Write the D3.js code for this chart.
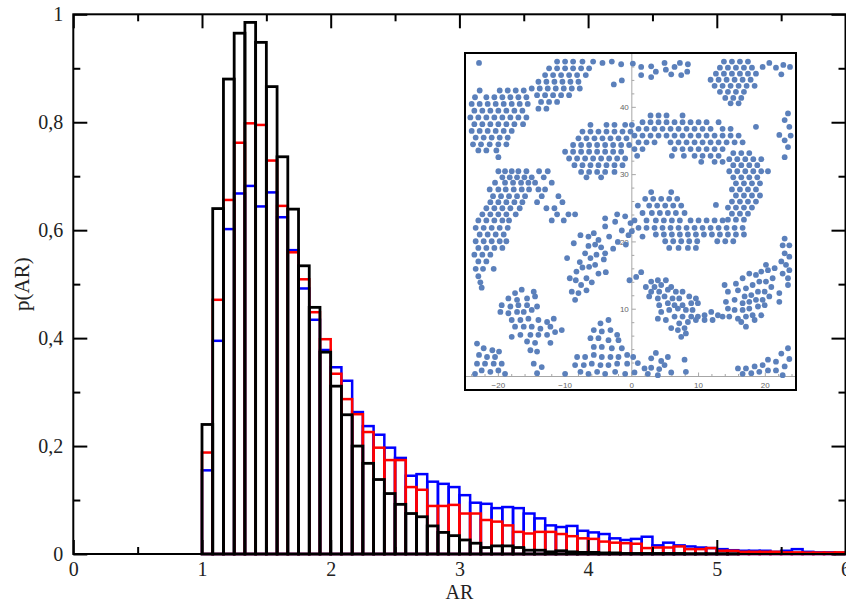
<!DOCTYPE html>
<html><head><meta charset="utf-8">
<script src="https://cdn.jsdelivr.net/npm/d3@7"></script>
<style>body{margin:0;background:#fff} svg{display:block}</style>
</head><body>
<svg id="chart" width="846" height="603"></svg>
<script>
// ---------- main histogram data ----------
const binStart = 1;
const binWidth = 1 / 12;
const seriesBlue = [
 0.155,0.395,0.602,0.668,0.682,0.644,0.670,0.624,0.563,0.492,
 0.434,0.378,0.346,0.321,0.263,0.237,0.221,0.197,0.178,0.145,
 0.148,0.134,0.130,0.124,0.109,0.095,0.093,0.085,0.087,0.085,
 0.075,0.066,0.053,0.050,0.052,0.043,0.040,0.037,0.029,0.026,
 0.028,0.032,0.016,0.021,0.016,0.014,0.012,0.011,0.009,0.007,
 0.006,0.006,0.006,0.004,0.006,0.009,0.004,0.003,0.003,0.0025];
const seriesRed = [
 0.188,0.471,0.656,0.762,0.798,0.795,0.729,0.645,0.559,0.509,
 0.448,0.398,0.334,0.287,0.259,0.226,0.197,0.174,0.174,0.124,
 0.119,0.089,0.089,0.091,0.075,0.075,0.063,0.060,0.053,0.041,
 0.038,0.041,0.041,0.037,0.033,0.029,0.028,0.023,0.021,0.020,
 0.019,0.011,0.012,0.012,0.014,0.009,0.009,0.011,0.006,0.006,
 0.004,0.004,0.004,0.004,0.003,0.003,0.0025,0.0025,0.0025,0.003];
const seriesBlack = [
 0.240,0.640,0.880,0.965,0.985,0.948,0.866,0.736,0.639,0.534,
 0.457,0.374,0.311,0.258,0.200,0.168,0.138,0.112,0.092,0.075,
 0.069,0.052,0.040,0.034,0.026,0.020,0.012,0.015,0.015,0.012,
 0.007,0.007,0.004,0.006,0.004,0.003,0.003,0.002,0.002,0.001,
 0.001,0.001,0.001,0.001,0.001,0.0005,0.0005,0.0005,0.0005,0.0005,
 0,0,0,0,0,0,0,0,0,0];
const xTicks = [0,1,2,3,4,5,6];
const xMinorTicks = [0.5,1.5,2.5,3.5,4.5,5.5];
const yTicks = [0,0.2,0.4,0.6,0.8,1];
const yTickLabels = ["0","0,2","0,4","0,6","0,8","1"];
const yMinorTicks = [0.1,0.3,0.5,0.7,0.9];
const xTitle = "AR";
const yTitle = "p(AR)";

// ---------- inset data (particle positions) ----------
const insetXTicks = [-20,-10,0,10,20];
const insetYTicks = [10,20,30,40];
const insetMinor = [-24,-22,-18,-16,-14,-12,-8,-6,-4,-2,2,4,6,8,12,14,16,18,22,24];
const insetYMinor = [2,4,6,8,12,14,16,18,22,24,26,28,32,34,36,38,42,44,46,48];
// rows: [y, [x...]]
const insetRows = [
 [42.5,[-22.8,-19.8,-18.6,-17.4,-16.2]],
 [41.5,[-23.5,-21.8,-20.6,-19.4,-18.2,-17.0,-15.8]],
 [40.5,[-24.0,-22.8,-21.6,-20.4,-19.2,-18.0,-16.8,-15.6]],
 [39.5,[-23.6,-22.4,-21.2,-20.0,-18.8,-17.6,-16.4]],
 [38.5,[-24.2,-23.0,-21.8,-20.6,-19.4,-18.2,-17.0,-15.8]],
 [37.5,[-23.6,-22.4,-21.2,-20.0,-18.8,-17.6,-16.3]],
 [36.5,[-24.0,-22.8,-21.6,-20.4,-19.2,-18.0]],
 [35.5,[-23.4,-22.2,-21.0,-19.8,-18.6]],
 [34.5,[-23.8,-22.6,-21.3,-20.0,-18.8]],
 [33.6,[-23.0,-21.8,-20.3]],
 [32.6,[-20.0]],
 [46.8,[-11.2,-10.0,-8.8,-7.4,-5.8]],
 [45.8,[-12.4,-11.2,-10.0,-8.8,-7.6,-6.4]],
 [44.8,[-13.0,-11.8,-10.6,-9.4,-8.2,-6.9]],
 [43.8,[-14.0,-12.8,-11.6,-10.4,-9.2,-8.0]],
 [42.8,[-15.0,-13.8,-12.6,-11.4,-10.2,-9.0,-7.8]],
 [41.8,[-14.2,-13.0,-11.8,-10.6,-9.4]],
 [40.8,[-13.6,-12.4,-11.2]],
 [39.8,[-14.0,-12.8]],
 [46.8,[13.8,15.0,16.2,17.4]],
 [45.9,[13.2,14.4,15.6,16.8,18.0]],
 [45.0,[12.6,13.8,15.0,16.2,17.4,18.6]],
 [44.1,[11.8,13.0,14.2,15.4,16.6,17.8]],
 [43.2,[12.4,13.6,14.8,16.0,17.2,18.4]],
 [42.3,[13.2,14.4,15.6,16.8]],
 [41.4,[14.0,15.2,16.4]],
 [40.6,[14.8,16.0]],
 [37.4,[-6.2,-3.8,-2.6,-1.0,0.0]],
 [36.4,[-7.4,-6.2,-5.0,-3.8,-2.6,-1.4,-0.2]],
 [35.4,[-8.0,-6.8,-5.6,-4.4,-3.2,-2.0,-0.8]],
 [34.4,[-8.8,-7.6,-6.4,-5.2,-4.0,-2.8,-1.6,-0.4]],
 [33.4,[-10.0,-8.8,-7.6,-6.4,-5.2,-4.0,-2.8,-1.6]],
 [32.4,[-9.4,-8.2,-7.0,-5.8,-4.6,-3.4,-2.2,-1.0]],
 [31.4,[-8.6,-7.4,-6.2,-5.0,-3.8,-2.6,-1.4]],
 [30.4,[-7.6,-6.4,-5.2,-4.0,-2.6]],
 [29.6,[-6.8,-4.6]],
 [38.8,[2.8,4.0,5.2,7.6]],
 [37.8,[1.6,2.8,4.0,5.2,6.4,7.6,8.8,10.0,11.2,13.0]],
 [36.8,[1.0,2.2,3.4,4.6,5.8,7.0,8.2,9.4,10.6,11.8,13.6,14.8]],
 [35.8,[0.4,1.6,2.8,4.0,5.2,6.4,7.6,8.8,10.0,11.2,12.4,13.6,14.8,16.0]],
 [34.8,[1.0,2.2,3.4,5.8,7.0,8.2,9.4,10.6,11.8,13.0,14.2,15.4,16.6]],
 [33.8,[0.4,1.6,6.4,7.6,8.8,10.0,11.2,12.4,13.6]],
 [32.8,[0.8,6.0,7.8,9.4,10.6,11.8,13.0]],
 [31.9,[10.4,12.4,13.6]],
 [33.2,[15.2,16.4,17.6]],
 [32.3,[14.6,15.8,17.0,18.2,19.4]],
 [31.4,[15.2,16.4,17.6,18.8]],
 [30.5,[14.6,15.8,17.0,18.2,19.4,20.4]],
 [29.6,[15.2,16.4,17.6,18.8]],
 [28.7,[15.6,16.8,18.0,19.2]],
 [27.8,[15.0,16.2,17.4,18.6]],
 [26.9,[15.6,16.8,18.0,19.2]],
 [26.0,[15.0,16.2,17.4,18.6]],
 [25.1,[14.4,15.6,16.8,18.0]],
 [24.2,[15.0,16.2,17.4]],
 [23.3,[14.4,15.6,16.8]],
 [27.4,[2.9,5.9]],
 [26.4,[2.0,3.2,4.4,5.6,6.8]],
 [25.4,[0.9,2.6,3.8,5.0,6.2,7.4]],
 [24.3,[1.6,3.0,4.2,5.4,6.6,7.9]],
 [23.2,[0.4,2.2,3.6,4.8,6.0,7.2,8.8,10.0,11.2,12.4,13.6]],
 [22.1,[1.0,2.2,3.4,4.6,5.8,7.0,8.2,9.4,10.6,11.8,13.0,14.2,15.4,16.6]],
 [21.1,[3.6,4.8,6.0,7.2,8.4,9.6,10.8,12.0,13.2,14.4,15.6,16.8]],
 [20.1,[5.0,6.2,7.4,8.6,9.8,12.8,14.0,15.2]],
 [19.1,[5.6,7.0,8.4,9.6]],
 [30.5,[-20.0,-19.0,-18.0,-17.0,-15.8,-13.9,-12.6]],
 [29.6,[-19.4,-18.3,-17.2,-16.1,-15.0,-13.2]],
 [28.8,[-20.5,-19.0,-17.8,-16.6,-15.5,-14.5,-12.0]],
 [27.8,[-21.3,-20.0,-18.9,-17.7,-16.5,-15.4,-14.0,-13.0]],
 [26.8,[-20.8,-19.6,-18.4,-17.2,-16.0,-13.5,-11.0]],
 [25.9,[-21.2,-20.0,-18.8,-17.6,-16.4,-14.2,-10.4]],
 [25.0,[-21.8,-20.6,-19.4,-18.2,-16.8,-12.8,-11.6]],
 [24.1,[-22.4,-21.2,-20.0,-18.8,-17.4,-11.2,-9.5,-8.5]],
 [23.2,[-23.0,-21.8,-20.6,-19.4,-18.4,-12.0,-10.2]],
 [22.1,[-23.4,-22.2,-21.0,-19.8,-18.6]],
 [21.1,[-22.8,-21.6,-20.4,-19.2]],
 [20.1,[-23.4,-22.2,-21.0,-19.8,-18.8]],
 [19.1,[-23.0,-21.8,-20.6,-19.4]],
 [18.1,[-23.6,-22.4,-21.2]],
 [17.1,[-23.0,-21.8]],
 [16.0,[-23.4,-22.3,-20.7]],
 [14.9,[-23.0]],
 [14.0,[-22.7]],
 [13.2,[-22.5]]
];
const insetPoints = [
 [-22.9,46.6],[-4.4,46.6],[-3.0,46.8],[-1.6,46.4],[-2.7,43.4],[-1.5,44.0],
 [0.15,46.5],[1.4,46.0],[1.4,44.8],[2.9,46.1],[2.9,44.5],[3.6,45.3],[4.9,46.6],[5.1,45.6],
 [5.9,44.9],[6.4,46.0],[7.2,46.6],[7.4,44.8],[8.4,46.4],[8.3,45.3],
 [19.6,46.0],[20.6,46.6],[21.6,45.9],[22.7,46.3],[23.7,46.0],[22.4,44.9],
 [23.4,39.1],[22.9,38.1],[23.6,37.1],[22.1,35.9],[22.9,35.1],[23.8,35.8],[23.4,34.1],[22.9,32.6],[18.6,37.1],
 [12.6,25.5],[0.0,21.6],[1.6,20.8],
 [-7.7,21.0],[-6.5,20.8],[-5.7,21.3],[-5.0,20.3],[-8.7,19.8],[-6.5,19.4],[-5.5,19.6],[-4.6,19.2],
 [-4.0,18.3],[-9.7,17.6],[-7.0,18.3],[-6.2,17.6],[-5.3,18.1],[-4.2,17.4],[-7.8,17.0],[-8.3,15.6],
 [-7.4,16.2],[-6.4,16.3],[-5.5,16.6],[-5.0,15.3],[-3.9,15.5],[-9.3,14.6],[-8.4,14.3],[-7.6,13.6],
 [-6.8,14.6],[-6.0,14.0],[-9.0,12.6],[-8.0,12.4],[-6.8,12.8],[-8.5,11.4],
 [-4.0,22.3],[-2.5,23.0],[-1.5,21.7],[-3.4,20.8],[-2.1,20.0],[-0.5,21.0],[-2.8,19.0],[-0.9,19.6],
 [-0.2,22.8],[-4.0,23.5],[-2.2,24.1],[-1.0,23.8],
 [-17.5,12.4],[-16.5,12.9],[-14.7,12.6],[-18.5,11.6],[-17.2,11.4],[-15.7,11.6],[-14.5,11.9],[-19.5,10.6],
 [-18.2,10.4],[-17.0,10.6],[-15.7,10.6],[-14.2,10.4],[-19.7,9.6],[-18.5,9.4],[-17.2,9.6],[-16.2,9.6],
 [-15.0,9.9],[-18.0,8.4],[-16.7,8.4],[-15.5,8.6],[-14.0,8.4],[-12.7,8.1],[-11.7,8.6],[-17.5,7.4],
 [-16.2,7.4],[-15.0,7.4],[-13.7,7.1],[-12.2,7.4],[-11.5,6.6],[-10.5,6.9],[-18.0,5.9],[-16.7,6.2],
 [-15.2,6.2],[-14.0,6.2],[-12.7,6.2],[-15.7,5.2],[-14.5,5.0],[-12.2,5.0],[-15.2,3.9],[-14.2,3.7],
 [-23.2,4.9],[-22.2,4.2],[-20.9,3.9],[-19.9,3.7],[-22.9,3.2],[-21.7,2.9],[-20.5,2.9],[-23.2,1.9],
 [-22.0,1.9],[-20.7,1.9],[-19.5,1.9],[-22.5,0.9],[-21.2,0.7],[-20.0,0.9],[-23.5,0.4],[-19.0,0.4],
 [-14.7,1.9],[-13.5,1.4],[-14.2,0.5],
 [-3.5,8.4],[-4.7,7.9],[-5.7,6.9],[-4.5,6.7],[-3.2,6.9],[-2.2,6.2],[-6.2,5.7],[-5.0,5.7],
 [-3.5,5.4],[-2.0,5.4],[-5.7,4.4],[-4.5,4.4],[-3.0,4.2],[-1.5,4.2],[-8.2,2.9],[-7.0,2.9],
 [-5.7,3.2],[-4.5,2.9],[-3.2,2.9],[-2.0,2.9],[-0.7,3.2],[-8.5,1.7],[-7.2,1.7],[-6.0,1.9],
 [-4.7,1.7],[-3.5,1.7],[-2.2,1.9],[-0.7,1.9],[-7.7,0.7],[-6.5,0.4],[-5.2,0.7],[-4.0,0.4],
 [-2.5,0.7],[-1.0,0.4],[-10.0,0.4],
 [0.2,2.9],[0.9,2.0],[1.9,1.2],[2.9,2.7],[3.6,3.5],[4.4,2.3],[5.4,2.9],[2.9,1.3],
 [4.1,1.1],[4.9,1.7],[0.4,0.6],[2.4,0.4],[3.9,0.2],[5.9,0.6],[7.9,2.5],[8.1,0.7],
 [-0.35,14.3],[0.65,14.8],[1.4,15.5],[2.9,14.1],[3.9,14.3],[5.1,14.3],[2.1,13.3],[3.4,13.3],
 [4.4,13.6],[5.9,13.3],[2.9,12.6],[4.1,12.6],[5.4,12.9],[6.6,12.6],[7.6,12.6],[2.6,11.9],
 [3.9,11.6],[4.9,11.9],[6.1,11.6],[7.1,11.6],[8.6,11.9],[9.6,11.6],[4.1,10.6],[5.4,10.9],
 [6.4,10.6],[7.6,10.6],[8.9,10.9],[9.9,10.9],[4.4,9.6],[5.6,9.9],[6.9,10.1],[8.1,9.9],
 [9.1,9.9],[3.9,8.6],[5.1,8.4],[6.4,8.9],[7.6,8.9],[8.9,8.9],[9.9,8.9],[10.9,9.1],
 [11.9,9.6],[12.9,9.1],[5.9,7.2],[7.1,7.9],[8.4,8.1],[9.6,8.4],[10.9,8.4],[12.1,8.4],
 [6.9,6.9],[7.9,7.2],[8.1,6.4],[7.4,5.9],
 [13.9,13.6],[14.4,12.6],[14.1,11.1],[15.6,13.8],[16.6,14.6],[17.6,15.3],[18.6,15.1],[19.4,15.6],
 [20.4,15.8],[21.4,16.1],[20.1,16.6],[15.9,12.8],[17.1,13.1],[18.1,13.6],[19.1,14.1],[20.1,14.1],
 [21.1,14.6],[16.9,11.9],[17.9,12.1],[18.9,12.6],[19.9,12.6],[20.9,13.3],[15.4,11.4],[16.6,10.9],
 [17.6,11.1],[18.6,11.4],[19.6,11.4],[20.6,11.9],[22.1,12.4],[14.4,10.1],[15.4,9.9],[16.6,9.9],
 [17.6,10.1],[18.9,10.4],[19.9,10.6],[22.1,11.1],[13.6,8.9],[14.6,8.9],[15.9,8.6],[17.1,8.9],
 [18.1,9.1],[19.4,9.1],[16.4,8.1],[17.1,7.4],[18.4,8.4],
 [22.9,20.5],[22.6,19.5],[23.6,19.5],[22.9,18.3],[23.6,17.8],[22.4,17.1],[23.1,16.6],[23.6,15.8],
 [22.6,15.3],[23.4,14.6],[23.4,13.6],
 [15.9,1.2],[17.1,1.2],[18.4,1.5],[19.6,1.7],[20.4,2.5],[21.6,2.2],[22.4,3.4],[23.4,4.2],
 [22.9,1.5],[21.6,0.9],[20.4,0.9],[19.1,0.7],[17.9,0.5],[16.6,0.4],[23.6,2.6],[22.6,0.2]
];

// ---------- drawing ----------
const svg = d3.select("#chart");
const x = d3.scaleLinear().domain([0, 6]).range([73.3, 845.5]);
const y = d3.scaleLinear().domain([0, 1]).range([554, 14.3]);
const serif = "'Liberation Serif','Times New Roman',serif";

const series = [
  {vals: seriesBlue, color: "#0000ff", w: 2.5},
  {vals: seriesRed, color: "#ff0000", w: 2.5},
  {vals: seriesBlack, color: "#000000", w: 2.8}
];
series.forEach(s => {
  svg.append("g").selectAll("rect")
    .data(s.vals.map((v, i) => ({x0: binStart + i * binWidth, v})).filter(d => d.v > 0))
    .join("rect")
    .attr("x", d => x(d.x0))
    .attr("width", d => x(d.x0 + binWidth) - x(d.x0))
    .attr("y", d => y(d.v))
    .attr("height", d => y(0) - y(d.v))
    .attr("fill", "none")
    .attr("stroke", s.color)
    .attr("stroke-width", s.w);
});

function styleAxis(g) {
  g.select(".domain").remove();
  g.selectAll(".tick line").attr("stroke", "#000").attr("stroke-width", 2);
  g.attr("font-family", serif).attr("font-size", 20);
  g.selectAll(".tick text").attr("fill", "#222");
}
svg.append("g").attr("transform", `translate(0,${y(0)})`)
  .call(d3.axisBottom(x).tickValues(xTicks).tickSizeInner(-14).tickSizeOuter(0).tickPadding(8).tickFormat(d3.format("d")))
  .call(styleAxis);
svg.append("g").attr("transform", `translate(0,${y(0)})`)
  .call(d3.axisBottom(x).tickValues(xMinorTicks).tickSizeInner(-7).tickSizeOuter(0).tickFormat(""))
  .call(styleAxis);
svg.append("g").attr("transform", `translate(0,${y(1)})`)
  .call(d3.axisTop(x).tickValues(xTicks).tickSizeInner(-14).tickSizeOuter(0).tickFormat(""))
  .call(styleAxis);
svg.append("g").attr("transform", `translate(0,${y(1)})`)
  .call(d3.axisTop(x).tickValues(xMinorTicks).tickSizeInner(-7).tickSizeOuter(0).tickFormat(""))
  .call(styleAxis);
svg.append("g").attr("transform", `translate(${x(0)},0)`)
  .call(d3.axisLeft(y).tickValues(yTicks).tickSizeInner(-14).tickSizeOuter(0).tickPadding(10).tickFormat((d, i) => yTickLabels[i]))
  .call(styleAxis);
svg.append("g").attr("transform", `translate(${x(0)},0)`)
  .call(d3.axisLeft(y).tickValues(yMinorTicks).tickSizeInner(-7).tickSizeOuter(0).tickFormat(""))
  .call(styleAxis);
svg.append("g").attr("transform", `translate(${x(6)},0)`)
  .call(d3.axisRight(y).tickValues(yTicks).tickSizeInner(-14).tickSizeOuter(0).tickFormat(""))
  .call(styleAxis);
svg.append("g").attr("transform", `translate(${x(6)},0)`)
  .call(d3.axisRight(y).tickValues(yMinorTicks).tickSizeInner(-7).tickSizeOuter(0).tickFormat(""))
  .call(styleAxis);

svg.append("rect")
  .attr("x", x(0)).attr("y", y(1))
  .attr("width", x(6) - x(0)).attr("height", y(0) - y(1))
  .attr("fill", "none").attr("stroke", "#000").attr("stroke-width", 2);

svg.append("text").attr("x", (x(0) + x(6)) / 2).attr("y", 599)
  .attr("text-anchor", "middle").attr("font-family", serif).attr("font-size", 20).attr("fill", "#222")
  .text(xTitle);
svg.append("text").attr("transform", `translate(29,${(y(0) + y(1)) / 2}) rotate(-90)`)
  .attr("text-anchor", "middle").attr("font-family", serif).attr("font-size", 21).attr("fill", "#222")
  .text(yTitle);

// ---------- inset ----------
const box = {x0: 465, y0: 53, x1: 796, y1: 390};
const ix = d3.scaleLinear().domain([-25, 24.6]).range([box.x0, box.x1]);
const iy = d3.scaleLinear().domain([0, 48]).range([376.5, 53.5]);
const inset = svg.append("g");
inset.append("rect").attr("x", box.x0).attr("y", box.y0)
  .attr("width", box.x1 - box.x0).attr("height", box.y1 - box.y0).attr("fill", "#fff");
svg.append("defs").append("clipPath").attr("id", "insetClip")
  .append("rect").attr("x", box.x0 + 1).attr("y", box.y0 + 1)
  .attr("width", box.x1 - box.x0 - 2).attr("height", box.y1 - box.y0 - 2);
const ig = inset.append("g").attr("clip-path", "url(#insetClip)");
const axisGray = "#a6a6a6";
ig.append("line").attr("x1", box.x0).attr("x2", box.x1).attr("y1", iy(0)).attr("y2", iy(0))
  .attr("stroke", axisGray).attr("stroke-width", 1);
ig.append("line").attr("x1", ix(0)).attr("x2", ix(0)).attr("y1", iy(0)).attr("y2", box.y0)
  .attr("stroke", axisGray).attr("stroke-width", 1);
ig.selectAll(".xmaj").data(insetXTicks).join("line")
  .attr("x1", d => ix(d)).attr("x2", d => ix(d)).attr("y1", iy(0)).attr("y2", iy(0) - 4)
  .attr("stroke", axisGray);
ig.selectAll(".xmin").data(insetMinor).join("line")
  .attr("x1", d => ix(d)).attr("x2", d => ix(d)).attr("y1", iy(0)).attr("y2", iy(0) - 2.5)
  .attr("stroke", axisGray);
ig.selectAll(".ymaj").data(insetYTicks).join("line")
  .attr("x1", ix(0)).attr("x2", ix(0) + 4).attr("y1", d => iy(d)).attr("y2", d => iy(d))
  .attr("stroke", axisGray);
ig.selectAll(".ymin").data(insetYMinor).join("line")
  .attr("x1", ix(0)).attr("x2", ix(0) + 2.5).attr("y1", d => iy(d)).attr("y2", d => iy(d))
  .attr("stroke", axisGray);
const fmt = d3.format("d");
ig.selectAll(".xl").data(insetXTicks).join("text")
  .attr("x", d => ix(d)).attr("y", iy(0) + 9).attr("dy", "0.35em")
  .attr("text-anchor", "middle").attr("font-family", "'Liberation Sans',Arial,sans-serif")
  .attr("font-size", 8).attr("fill", "#666").text(d => fmt(d));
ig.selectAll(".yl").data(insetYTicks).join("text")
  .attr("x", ix(0) - 3).attr("y", d => iy(d)).attr("dy", "0.35em")
  .attr("text-anchor", "end").attr("font-family", "'Liberation Sans',Arial,sans-serif")
  .attr("font-size", 8).attr("fill", "#666").text(d => fmt(d));

const allPoints = insetRows.flatMap(([yv, xs]) => xs.map(xv => [xv, yv])).concat(insetPoints);
ig.selectAll("circle").data(allPoints).join("circle")
  .attr("cx", d => ix(d[0])).attr("cy", d => iy(d[1])).attr("r", 2.9)
  .attr("fill", "#5b80bb");

inset.append("rect").attr("x", box.x0).attr("y", box.y0)
  .attr("width", box.x1 - box.x0).attr("height", box.y1 - box.y0)
  .attr("fill", "none").attr("stroke", "#000").attr("stroke-width", 2);
</script>
</body></html>
